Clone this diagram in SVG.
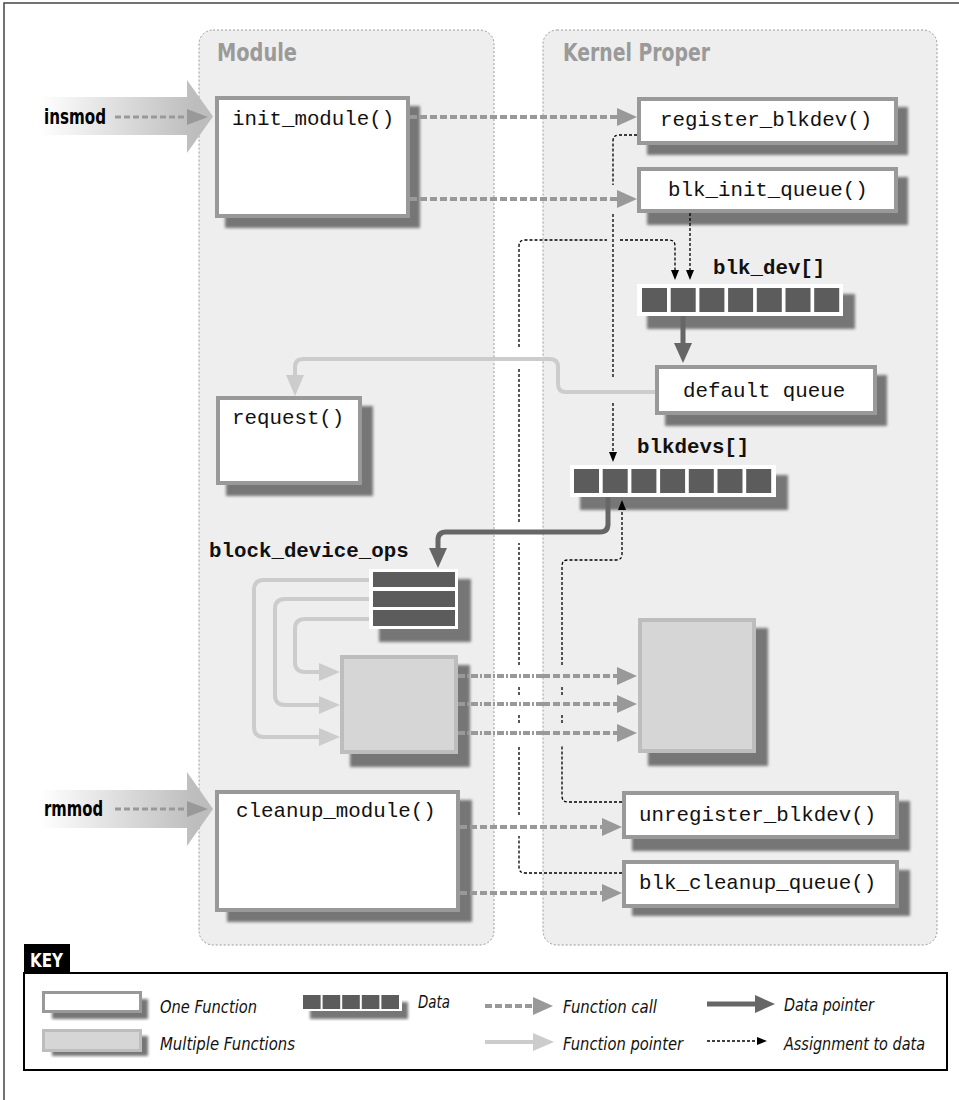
<svg xmlns="http://www.w3.org/2000/svg" width="959" height="1100" viewBox="0 0 959 1100">
<style>
.panel{fill:#eeeeee;stroke:#9a9a9a;stroke-width:1;stroke-dasharray:2,2}
.title{font-family:"Liberation Sans Narrow","DejaVu Sans Condensed","Liberation Sans",sans-serif;font-weight:bold;font-size:25px;fill:#9a9a9a}
.cmd{font-family:"Liberation Sans Narrow","DejaVu Sans Condensed","Liberation Sans",sans-serif;font-weight:bold;font-size:22px;fill:#000}
.mono{font-family:"Liberation Mono","Courier New",monospace;font-size:20.8px;fill:#111}
.monob{font-family:"Liberation Mono","Courier New",monospace;font-size:20.8px;font-weight:bold;fill:#111}
.fn{fill:#fff;stroke:#999;stroke-width:4}
.multi{fill:#d6d6d6;stroke:#bdbdbd;stroke-width:4}
.sh{fill:#767676;filter:url(#blur)}
.cell{fill:#5c5c5c}
.call{fill:none;stroke:#999;stroke-width:4;stroke-dasharray:7,3}
.calldd{fill:none;stroke:#999;stroke-width:4;stroke-dasharray:7,2,2,2}
.fptr{fill:none;stroke:#cccccc;stroke-width:4}
.dptr{fill:none;stroke:#666;stroke-width:5}
.asg{fill:none;stroke:#000;stroke-width:1.3;stroke-dasharray:3,2}
.keyt{font-family:"Liberation Sans Narrow","DejaVu Sans Condensed","Liberation Sans",sans-serif;font-style:italic;font-size:18px;fill:#111}
</style>
<defs>
<filter id="blur" x="-10%" y="-10%" width="120%" height="120%"><feGaussianBlur stdDeviation="1.8"/></filter>
<linearGradient id="bigArrow" gradientUnits="userSpaceOnUse" x1="40" y1="0" x2="195" y2="0">
<stop offset="0" stop-color="#ffffff"/><stop offset="1" stop-color="#bdbdbd"/>
</linearGradient>
<marker id="mCall" markerUnits="userSpaceOnUse" markerWidth="20" markerHeight="18" refX="0" refY="9" orient="auto" overflow="visible"><path d="M0,0 L20,9 L0,18 Z" fill="#999"/></marker>
<marker id="mPtr" markerUnits="userSpaceOnUse" markerWidth="21" markerHeight="18" refX="0" refY="9" orient="auto" overflow="visible"><path d="M0,0 L21,9 L0,18 Z" fill="#cccccc"/></marker>
<marker id="mData" markerUnits="userSpaceOnUse" markerWidth="20" markerHeight="18" refX="0" refY="9" orient="auto" overflow="visible"><path d="M0,0 L20,9 L0,18 Z" fill="#666"/></marker>
<marker id="mAsg" markerUnits="userSpaceOnUse" markerWidth="10" markerHeight="8" refX="0" refY="4" orient="auto" overflow="visible"><path d="M0,0 L10,4 L0,8 Z" fill="#000"/></marker>
</defs>

<rect width="959" height="1100" fill="#fff"/>
<path d="M4,1100 V3 H959" fill="none" stroke="#444" stroke-width="1.5"/>

<g id="module-panel">
<rect class="panel" x="199" y="30" width="295" height="915" rx="14"/>
<text class="title" x="217" y="61" textLength="80" lengthAdjust="spacingAndGlyphs">Module</text>
</g>
<g id="kernel-panel">
<rect class="panel" x="543" y="30" width="394" height="915" rx="14"/>
<text class="title" x="563" y="61" textLength="147" lengthAdjust="spacingAndGlyphs">Kernel Proper</text>
</g>

<g id="insmod">
<polygon points="40,97 187,97 187,80 213,116.5 187,153 187,135 40,135" fill="url(#bigArrow)"/>
<text class="cmd" x="44" y="124" textLength="62" lengthAdjust="spacingAndGlyphs">insmod</text>
<line x1="115" y1="117" x2="188" y2="117" stroke="#999" stroke-width="3" stroke-dasharray="6,3"/>
<path d="M187,109 L208,117 L187,125 Z" fill="#999"/>
</g>

<g id="rmmod">
<polygon points="40,790 187,790 187,772 213,809 187,846 187,828 40,828" fill="url(#bigArrow)"/>
<text class="cmd" x="44" y="816" textLength="59" lengthAdjust="spacingAndGlyphs">rmmod</text>
<line x1="115" y1="809" x2="188" y2="809" stroke="#999" stroke-width="3" stroke-dasharray="6,3"/>
<path d="M187,801 L208,809 L187,817 Z" fill="#999"/>
</g>

<g id="init_module">
<rect class="sh" x="225" y="106" width="195" height="122"/>
<rect class="fn" x="217" y="98" width="191" height="118"/>
<text class="mono" x="232" y="125">init_module()</text>
</g>

<g id="register_blkdev">
<rect class="sh" x="647" y="107" width="261" height="48"/>
<rect class="fn" x="639" y="99" width="257" height="44"/>
<text class="mono" x="660" y="126">register_blkdev()</text>
</g>

<g id="blk_init_queue">
<rect class="sh" x="647" y="177" width="261" height="48"/>
<rect class="fn" x="639" y="169" width="257" height="42"/>
<text class="mono" x="668" y="196">blk_init_queue()</text>
</g>

<g id="blk_dev">
<text class="monob" x="713" y="274">blk_dev[]</text>
<rect class="sh" x="647" y="294" width="208" height="35"/>
<rect x="637" y="284" width="206" height="32" fill="#fff"/>
<rect class="cell" x="642" y="288" width="25" height="24"/>
<rect class="cell" x="670.7" y="288" width="25" height="24"/>
<rect class="cell" x="699.4" y="288" width="25" height="24"/>
<rect class="cell" x="728.1" y="288" width="25" height="24"/>
<rect class="cell" x="756.8" y="288" width="25" height="24"/>
<rect class="cell" x="785.5" y="288" width="25" height="24"/>
<rect class="cell" x="814.2" y="288" width="25" height="24"/>
</g>

<g id="default_queue">
<rect class="sh" x="665" y="375" width="222" height="51"/>
<rect class="fn" x="657" y="367" width="218" height="46"/>
<text class="mono" x="683" y="397">default queue</text>
</g>

<g id="request">
<rect class="sh" x="226" y="406" width="147" height="90"/>
<rect class="fn" x="218" y="398" width="142" height="85"/>
<text class="mono" x="232" y="424">request()</text>
</g>

<g id="blkdevs">
<text class="monob" x="637" y="453">blkdevs[]</text>
<rect class="sh" x="580" y="475" width="208" height="35"/>
<rect x="570" y="465" width="206" height="32" fill="#fff"/>
<rect class="cell" x="574" y="469" width="25" height="24"/>
<rect class="cell" x="602.7" y="469" width="25" height="24"/>
<rect class="cell" x="631.4" y="469" width="25" height="24"/>
<rect class="cell" x="660.1" y="469" width="25" height="24"/>
<rect class="cell" x="688.8" y="469" width="25" height="24"/>
<rect class="cell" x="717.5" y="469" width="25" height="24"/>
<rect class="cell" x="746.2" y="469" width="25" height="24"/>
</g>

<g id="block_device_ops">
<text class="monob" x="209" y="557">block_device_ops</text>
<rect class="sh" x="379" y="579" width="92" height="63"/>
<rect x="369" y="569" width="89" height="60" fill="#fff"/>
<rect class="cell" x="373" y="572" width="82" height="15"/>
<rect class="cell" x="373" y="591" width="82" height="16"/>
<rect class="cell" x="373" y="610" width="82" height="16"/>
</g>

<g id="module_functions">
<rect class="sh" x="350" y="665" width="120" height="102"/>
<rect class="multi" x="342" y="657" width="114" height="95"/>
</g>

<g id="kernel_functions">
<rect class="sh" x="648" y="628" width="120" height="138"/>
<rect class="multi" x="640" y="620" width="114" height="131"/>
</g>

<g id="unregister_blkdev">
<rect class="sh" x="632" y="801" width="278" height="50"/>
<rect class="fn" x="624" y="793" width="273" height="44"/>
<text class="mono" x="639" y="821">unregister_blkdev()</text>
</g>

<g id="blk_cleanup_queue">
<rect class="sh" x="632" y="870" width="278" height="46"/>
<rect class="fn" x="624" y="862" width="273" height="44"/>
<text class="mono" x="639" y="889">blk_cleanup_queue()</text>
</g>

<g id="cleanup_module">
<rect class="sh" x="227" y="800" width="245" height="122"/>
<rect class="fn" x="217" y="792" width="241" height="118"/>
<text class="mono" x="236" y="817">cleanup_module()</text>
</g>

<g id="connectors">
<!-- function calls -->
<path class="call" d="M410,117 H617" marker-end="url(#mCall)"/>
<path class="call" d="M410,199 H617" marker-end="url(#mCall)"/>
<path class="call" d="M460,827 H602" marker-end="url(#mCall)"/>
<path class="call" d="M460,893 H602" marker-end="url(#mCall)"/>
<path class="calldd" d="M458,676 H543"/>
<path class="calldd" d="M458,704 H543"/>
<path class="calldd" d="M458,733 H543"/>
<path class="call" d="M543,676 H617" marker-end="url(#mCall)"/>
<path class="call" d="M543,704 H617" marker-end="url(#mCall)"/>
<path class="call" d="M543,733 H617" marker-end="url(#mCall)"/>
<!-- function pointers -->
<path class="fptr" d="M655,392 H566 Q558,392 558,384 V367 Q558,359 550,359 H303 Q295,359 295,367 V375" marker-end="url(#mPtr)"/>
<path class="fptr" d="M369,580 H264 Q254,580 254,590 V727 Q254,737 264,737 H319" marker-end="url(#mPtr)"/>
<path class="fptr" d="M369,599 H285 Q275,599 275,609 V695 Q275,705 285,705 H319" marker-end="url(#mPtr)"/>
<path class="fptr" d="M369,619 H305 Q295,619 295,629 V662 Q295,672 305,672 H319" marker-end="url(#mPtr)"/>
<!-- data pointers -->
<path class="dptr" d="M683,316 V343" marker-end="url(#mData)"/>
<path class="dptr" d="M608,497 V524 Q608,532 600,532 H446 Q438,532 438,540 V548" marker-end="url(#mData)"/>
<!-- assignments -->
<path class="asg" d="M637,135 H619 Q613,135 613,141 V185 M613,214 V378 M613,403 V452" marker-end="url(#mAsg)"/>
<path class="asg" d="M690,213 V270" marker-end="url(#mAsg)"/>
<path class="asg" d="M622,873 H525 Q519,873 519,867 V836 M519,815 V746 M519,723 V715 M519,695 V686 M519,665 V543 M519,522 V369 M519,347 V246 Q519,240 525,240 H607 M620,240 H669 Q675,240 675,246 V270" marker-end="url(#mAsg)"/>
<path class="asg" d="M622,802 H568 Q562,802 562,796 V745 M562,723 V715 M562,695 V686 M562,665 V566 Q562,560 568,560 H616 Q622,560 622,554 V510" marker-end="url(#mAsg)"/>
</g>

<g id="key">
<rect x="24" y="944" width="46" height="30" fill="#000"/>
<text x="30" y="967" font-family="Liberation Sans Narrow, DejaVu Sans Condensed, Liberation Sans, sans-serif" font-weight="bold" font-size="20" fill="#fff" textLength="33" lengthAdjust="spacingAndGlyphs">KEY</text>
<rect x="24" y="973" width="923" height="97" fill="#fff" stroke="#000" stroke-width="2"/>
<rect class="sh" x="52" y="999" width="96" height="20"/>
<rect x="43.5" y="992.5" width="97" height="19" fill="#fff" stroke="#999" stroke-width="3"/>
<text class="keyt" x="160" y="1013" textLength="97" lengthAdjust="spacingAndGlyphs">One Function</text>
<rect class="sh" x="52" y="1036" width="96" height="20"/>
<rect x="43.5" y="1030.5" width="97" height="20" fill="#d6d6d6" stroke="#bdbdbd" stroke-width="3"/>
<text class="keyt" x="160" y="1050" textLength="135" lengthAdjust="spacingAndGlyphs">Multiple Functions</text>
<rect class="sh" x="310" y="1002" width="98" height="17"/>
<rect x="301" y="993" width="101" height="18" fill="#fff"/>
<rect class="cell" x="303" y="995" width="17.6" height="14"/>
<rect class="cell" x="322.6" y="995" width="17.6" height="14"/>
<rect class="cell" x="342.2" y="995" width="17.6" height="14"/>
<rect class="cell" x="361.8" y="995" width="17.6" height="14"/>
<rect class="cell" x="381.4" y="995" width="17.6" height="14"/>
<text class="keyt" x="418" y="1008" textLength="32" lengthAdjust="spacingAndGlyphs">Data</text>
<path class="call" d="M485,1006 H533" marker-end="url(#mCall)"/>
<text class="keyt" x="563" y="1013" textLength="94" lengthAdjust="spacingAndGlyphs">Function call</text>
<path class="fptr" d="M485,1042 H533" marker-end="url(#mPtr)"/>
<text class="keyt" x="563" y="1050" textLength="120" lengthAdjust="spacingAndGlyphs">Function pointer</text>
<path class="dptr" d="M707,1004 H755" marker-end="url(#mData)"/>
<text class="keyt" x="784" y="1011" textLength="90" lengthAdjust="spacingAndGlyphs">Data pointer</text>
<path class="asg" d="M707,1041 H757" marker-end="url(#mAsg)"/>
<text class="keyt" x="784" y="1050" textLength="141" lengthAdjust="spacingAndGlyphs">Assignment to data</text>
</g>
</svg>
